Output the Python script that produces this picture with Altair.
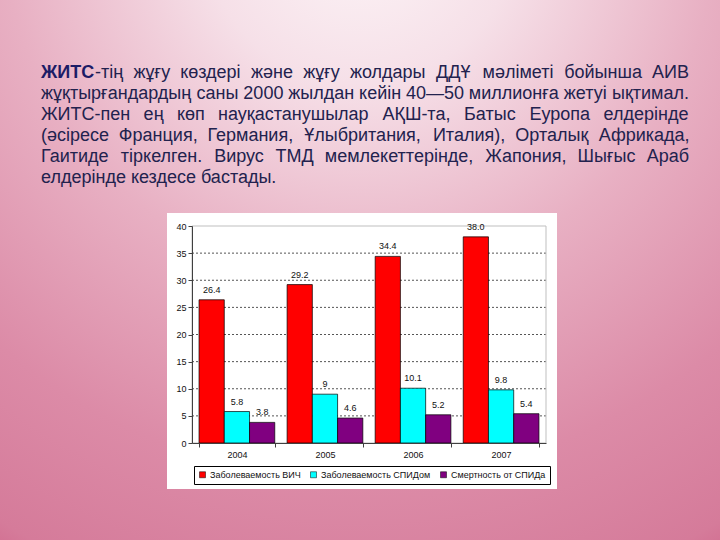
import altair as alt
import pandas as pd

# ---------------- data ----------------
years = ["2004", "2005", "2006", "2007"]
series = ["Заболеваемость ВИЧ", "Заболеваемость СПИДом", "Смертность от СПИДа"]
hiv = [26.4, 29.2, 34.4, 38.0]
aids = [5.8, 9, 10.1, 9.8]
deaths = [3.8, 4.6, 5.2, 5.4]
colors = ["#ff0000", "#00ffff", "#800080"]
y_ticks = [0, 5, 10, 15, 20, 25, 30, 35, 40]
grid_vals = [5, 10, 15, 20, 25, 30, 35]

bold_word = "ЖИТС"
para_lines = [
    "ЖИТС-тің жұғу көздері және жұғу жолдары ДДҰ мәліметі бойынша АИВ",
    "жұқтырғандардың саны 2000 жылдан кейін 40—50 миллионға жетуі ықтимал.",
    "ЖИТС-пен ең көп науқастанушылар АҚШ-та, Батыс Еуропа елдерінде",
    "(әсіресе Франция, Германия, Ұлыбритания, Италия), Орталық Африкада,",
    "Гаитиде тіркелген. Вирус ТМД мемлекеттерінде, Жапония, Шығыс Араб",
    "елдерінде кездесе бастады.",
]

# ---------------- layout ----------------
L, T = 192, 226          # plot origin in page pixels
W, H = 354, 217          # plot area
FONT = "Liberation Sans"
TEXT_LEFT, TEXT_RIGHT = 41, 689
FS = 18
LINE0, LSTEP = 77.5, 21

# approximate Arial advance widths (em)
_w = {
    "а": .556, "б": .573, "в": .531, "г": .365, "д": .583, "е": .556, "ж": .669, "з": .458,
    "и": .559, "й": .559, "к": .438, "л": .583, "м": .688, "н": .552, "о": .556, "п": .542,
    "р": .556, "с": .5, "т": .458, "у": .5, "ф": .823, "х": .5, "ц": .573, "ч": .521,
    "ш": .802, "щ": .823, "ъ": .625, "ы": .719, "ь": .521, "э": .51, "ю": .75, "я": .542,
    "ә": .556, "ғ": .365, "қ": .438, "ң": .56, "ө": .556, "ұ": .5, "ү": .5, "һ": .556, "і": .222,
    "А": .667, "Б": .656, "В": .667, "Г": .542, "Д": .677, "Е": .667, "Ж": .923, "З": .604,
    "И": .719, "Й": .719, "К": .583, "Л": .656, "М": .833, "Н": .722, "О": .778, "П": .719,
    "Р": .667, "С": .722, "Т": .611, "У": .635, "Ф": .76, "Х": .667, "Ц": .74, "Ч": .667,
    "Ш": .917, "Щ": .938, "Ы": .885, "Э": .719, "Ю": 1.01, "Я": .719, "Ұ": .667, "Қ": .583,
    "І": .278, " ": .278, ".": .278, ",": .278, "-": .333, "—": 1.0, "(": .333, ")": .333,
}
_wb = {"Ж": .95, "И": .722, "Т": .611, "С": .722}


def tw(s, bold=False):
    tab = _wb if bold else {}
    return sum(tab.get(c, _w.get(c, .556)) for c in s) * FS


reg_rows, bold_rows = [], []
for i, line in enumerate(para_lines):
    y = LINE0 + i * LSTEP - T
    words = line.split(" ")
    last = i == len(para_lines) - 1
    if last:
        reg_rows.append({"px": TEXT_LEFT - L, "py": y, "t": line})
        continue
    widths = []
    for wd in words:
        if wd.startswith(bold_word) and i == 0:
            widths.append(tw(bold_word, True) + tw(wd[len(bold_word):]))
        else:
            widths.append(tw(wd))
    gap = (TEXT_RIGHT - TEXT_LEFT - sum(widths)) / (len(words) - 1)
    x = TEXT_LEFT
    for j, wd in enumerate(words):
        if j == len(words) - 1:
            x = TEXT_RIGHT - widths[j]
        if wd.startswith(bold_word) and i == 0:
            bold_rows.append({"px": x - L, "py": y, "t": bold_word})
            reg_rows.append({"px": x + tw(bold_word, True) - L, "py": y, "t": wd[len(bold_word):]})
        else:
            reg_rows.append({"px": x - L, "py": y, "t": wd})
        x += widths[j] + gap

rows = []
for s, vals in zip(series, [hiv, aids, deaths]):
    for yr, v in zip(years, vals):
        rows.append({"year": yr, "series": s, "value": v, "label": str(v)})
df = pd.DataFrame(rows)

one = alt.Data(values=[{"a": 1}])

yscale = alt.Scale(domain=[0, 40], nice=False)
yaxis = alt.Axis(title=None, values=y_ticks, tickSize=4, grid=False, domainColor="#404040",
                 tickColor="#404040", labelFontSize=9, labelFont=FONT, labelColor="#111",
                 labelPadding=2, zindex=1)
xaxis = alt.Axis(title=None, labelAngle=0, tickBand="extent", tickSize=4, tickColor="#404040",
                 domainColor="#404040", labelFontSize=9, labelFont=FONT, labelColor="#111",
                 labelPadding=3, grid=False, zindex=1)

bg = alt.Chart(one).mark_rect(
    strokeWidth=0,
    fill={"gradient": "radial", "x1": 0.5, "y1": 0.02, "x2": 0.5, "y2": 0.02, "r1": 0, "r2": 1.1,
          "stops": [{"offset": 0, "color": "#fdf6f8"}, {"offset": 0.2, "color": "#f6e0e8"},
                    {"offset": 0.45, "color": "#e8b0c3"}, {"offset": 0.7, "color": "#dc8ba7"},
                    {"offset": 0.88, "color": "#d57b9a"}, {"offset": 1, "color": "#c9507b"}]},
).encode(x=alt.value(-L), x2=alt.value(720 - L), y=alt.value(-T), y2=alt.value(540 - T))

box = alt.Chart(one).mark_rect(fill="#ffffff", strokeWidth=0).encode(
    x=alt.value(167 - L), x2=alt.value(557 - L), y=alt.value(213 - T), y2=alt.value(489 - T))

para = alt.Chart(alt.Data(values=reg_rows)).mark_text(
    align="left", baseline="alphabetic", font=FONT, fontSize=FS, color="#22224e"
).encode(x=alt.X("px:Q", scale=None, axis=None), y=alt.Y("py:Q", scale=None, axis=None), text="t:N")

para_b = alt.Chart(alt.Data(values=bold_rows)).mark_text(
    align="left", baseline="alphabetic", font=FONT, fontSize=FS, fontWeight="bold", color="#1c1c66"
).encode(x=alt.X("px:Q", scale=None, axis=None), y=alt.Y("py:Q", scale=None, axis=None), text="t:N")

grid = alt.Chart(pd.DataFrame({"value": grid_vals})).mark_rule(
    color="#555555", strokeWidth=1, strokeDash=[2, 2]
).encode(y=alt.Y("value:Q", scale=yscale, axis=yaxis), x=alt.value(0), x2=alt.value(W))

border = alt.Chart(one).mark_rect(fillOpacity=0, stroke="#bfbfbf", strokeWidth=1).encode(
    x=alt.value(0), x2=alt.value(W), y=alt.value(0), y2=alt.value(H))

xenc = alt.X("year:N", sort=years, scale=alt.Scale(paddingInner=0.14, paddingOuter=0.08), axis=xaxis)
xoff = alt.XOffset("series:N", sort=series, scale=alt.Scale(paddingInner=0, paddingOuter=0))

bars = alt.Chart(df).mark_bar(stroke="#000000", strokeWidth=0.7).encode(
    x=xenc, xOffset=xoff,
    y=alt.Y("value:Q", scale=yscale, axis=yaxis),
    color=alt.Color("series:N", sort=series, scale=alt.Scale(domain=series, range=colors),
                    legend=alt.Legend(title=None, orient="none", legendX=2, legendY=240,
                                      direction="horizontal", symbolType="square", symbolSize=36,
                                      labelFontSize=9, labelFont=FONT, labelColor="#111",
                                      strokeColor="#000", fillColor="#ffffff", padding=4,
                                      columnPadding=8, labelOffset=3, symbolStrokeColor="#000",
                                      symbolStrokeWidth=0.5)),
)

labels = alt.Chart(df).mark_text(
    baseline="bottom", dy=-5, fontSize=9, font=FONT, color="#111"
).encode(x=xenc, xOffset=xoff, y=alt.Y("value:Q", scale=yscale, axis=yaxis), text="label:N")

chart = alt.layer(bg, box, para, para_b, grid, border, bars, labels).properties(
    width=W, height=H,
    autosize=alt.AutoSizeParams(type="none"),
    padding={"left": L, "top": T, "right": 720 - L - W, "bottom": 540 - T - H},
    background="#d98aa6",
).configure_view(stroke=None)

chart.save("out.html", embed_options={"renderer": "svg", "actions": False})
